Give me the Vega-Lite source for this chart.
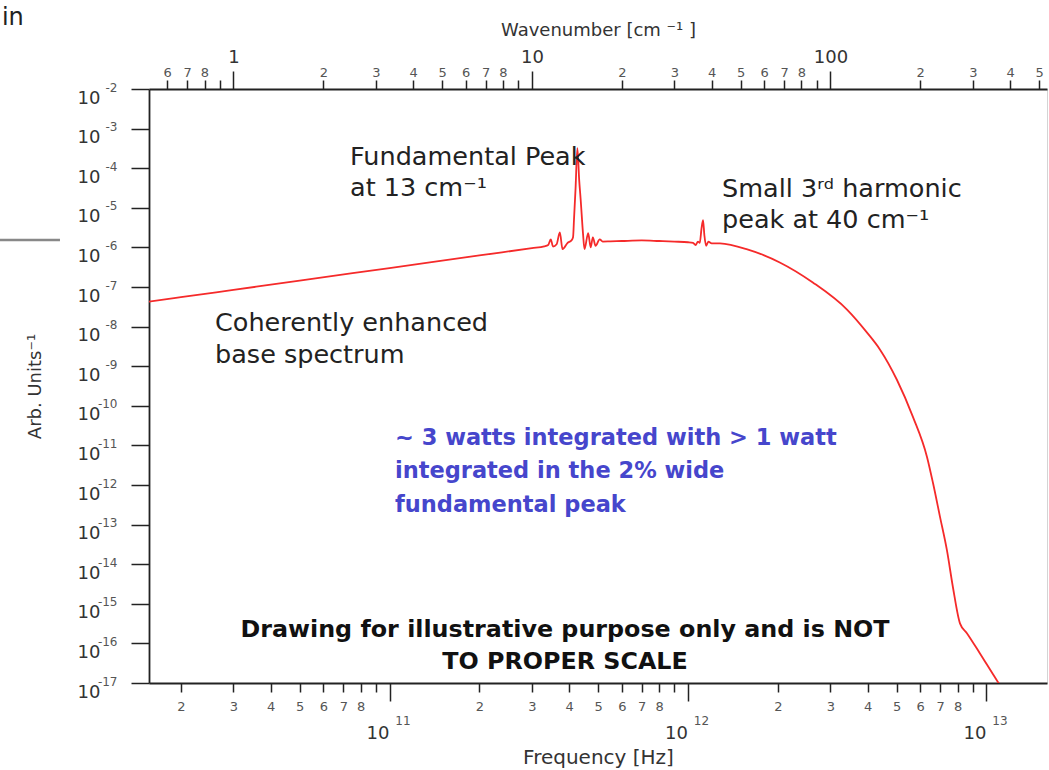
{
  "$schema": "https://vega.github.io/schema/vega-lite/v6.json",
  "width": 898,
  "height": 594,
  "autosize": {"type": "none"},
  "padding": {"left": 149, "top": 89, "right": 2, "bottom": 87},
  "background": "white",
  "config": {
    "view": {"stroke": "#d4d4d4", "strokeWidth": 1},
    "axis": {
      "grid": false,
      "labelFont": "DejaVu Sans",
      "titleFont": "DejaVu Sans",
      "domainColor": "#222222",
      "domainWidth": 1.8,
      "tickColor": "#222222",
      "tickWidth": 1.5,
      "labelFlush": false,
      "labelOverlap": false,
      "labelBound": false,
      "titleFontWeight": "normal",
      "titleColor": "#333333"
    },
    "text": {"font": "DejaVu Sans"}
  },
  "datasets": {
    "curve": [
      {"f": 1.5e10, "v": 4.07e-8},
      {"f": 2e10, "v": 5.52e-8},
      {"f": 3e10, "v": 8.46e-8},
      {"f": 5e10, "v": 1.45e-7},
      {"f": 1e11, "v": 3.01e-7},
      {"f": 2e11, "v": 6.25e-7},
      {"f": 3e11, "v": 9.58e-7},
      {"f": 3.3e11, "v": 1.06e-6},
      {"f": 3.4e11, "v": 1.15e-6},
      {"f": 3.47e11, "v": 1.6e-6},
      {"f": 3.53e11, "v": 1.05e-6},
      {"f": 3.63e11, "v": 1.2e-6},
      {"f": 3.72e11, "v": 2.4e-6},
      {"f": 3.8e11, "v": 9e-7},
      {"f": 3.95e11, "v": 1.3e-6},
      {"f": 4.07e11, "v": 1.5e-6},
      {"f": 4.12e11, "v": 1.8e-6},
      {"f": 4.15e11, "v": 5.0e-6},
      {"f": 4.2e11, "v": 3.0e-5},
      {"f": 4.26e11, "v": 3.2e-4},
      {"f": 4.32e11, "v": 5.0e-5},
      {"f": 4.37e11, "v": 1.6e-5},
      {"f": 4.45e11, "v": 2.2e-6},
      {"f": 4.5e11, "v": 9e-7},
      {"f": 4.63e11, "v": 2.3e-6},
      {"f": 4.72e11, "v": 1.0e-6},
      {"f": 4.8e11, "v": 1.8e-6},
      {"f": 4.9e11, "v": 1.1e-6},
      {"f": 5.06e11, "v": 1.6e-6},
      {"f": 5.18e11, "v": 1.4e-6},
      {"f": 5.5e11, "v": 1.42e-6},
      {"f": 6e11, "v": 1.45e-6},
      {"f": 7e11, "v": 1.5e-6},
      {"f": 8e11, "v": 1.45e-6},
      {"f": 9e11, "v": 1.4e-6},
      {"f": 1.0e12, "v": 1.35e-6},
      {"f": 1.04e12, "v": 1.3e-6},
      {"f": 1.06e12, "v": 1.15e-6},
      {"f": 1.08e12, "v": 1.4e-6},
      {"f": 1.095e12, "v": 1.3e-6},
      {"f": 1.11e12, "v": 3.0e-6},
      {"f": 1.123e12, "v": 4.9e-6},
      {"f": 1.135e12, "v": 2.0e-6},
      {"f": 1.15e12, "v": 1.1e-6},
      {"f": 1.17e12, "v": 1.4e-6},
      {"f": 1.2e12, "v": 1.27e-6},
      {"f": 1.28e12, "v": 1.26e-6},
      {"f": 1.58e12, "v": 8.9e-7},
      {"f": 2.03e12, "v": 4.17e-7},
      {"f": 2.62e12, "v": 1.3e-7},
      {"f": 3.41e12, "v": 2.69e-8},
      {"f": 3.98e12, "v": 7.05e-9},
      {"f": 4.4e12, "v": 2.62e-9},
      {"f": 5.01e12, "v": 4.55e-10},
      {"f": 5.67e12, "v": 5.27e-11},
      {"f": 6.32e12, "v": 5.12e-12},
      {"f": 6.62e12, "v": 1.12e-12},
      {"f": 6.99e12, "v": 1.55e-13},
      {"f": 7.37e12, "v": 2.26e-14},
      {"f": 7.72e12, "v": 2.62e-15},
      {"f": 8.15e12, "v": 3.21e-16},
      {"f": 8.61e12, "v": 1.79e-16},
      {"f": 9.51e12, "v": 5.58e-17},
      {"f": 1.084e13, "v": 1.16e-17},
      {"f": 1.153e13, "v": 5.8e-18}
    ],
    "notes": [
      {"kind": "note", "f": 7.375e10, "v": 1.205e-4, "label": "Fundamental Peak\nat 13 cm⁻¹"},
      {"kind": "note", "f": 1.3e12, "v": 1.88e-5, "label": "Small 3ʳᵈ harmonic\npeak at 40 cm⁻¹"},
      {"kind": "note", "f": 2.603e10, "v": 7.74e-9, "label": "Coherently enhanced\nbase spectrum"},
      {"kind": "blue", "f": 1.043e11, "v": 1.02e-11, "label": "~ 3 watts integrated with > 1 watt\nintegrated in the 2% wide\nfundamental peak"},
      {"kind": "warn", "f": 3.873e11, "v": 1.45e-16, "label": "Drawing for illustrative purpose only and is NOT\nTO PROPER SCALE"},
      {"kind": "frag", "f": 5.03e9, "v": 0.413, "label": "in"}
    ],
    "fragrule": [
      {"f": 4.95e9, "f2": 7.87e9, "v": 1.54e-6}
    ]
  },
  "resolve": {"axis": {"x": "independent", "y": "independent"}},
  "layer": [
    {
      "data": {"name": "curve"},
      "mark": {"type": "line", "color": "#f52a2a", "strokeWidth": 1.8, "clip": true, "interpolate": "monotone"},
      "encoding": {
        "x": {
          "field": "f", "type": "quantitative",
          "scale": {"type": "log", "domain": [1.564e10, 1.595e13], "nice": false},
          "axis": {
            "orient": "bottom", "title": null,
            "values": [2e10, 3e10, 4e10, 5e10, 6e10, 7e10, 8e10, 9e10, 2e11, 3e11, 4e11, 5e11, 6e11, 7e11, 8e11, 9e11, 2e12, 3e12, 4e12, 5e12, 6e12, 7e12, 8e12, 9e12],
            "tickSize": 9, "labelFontSize": 13, "labelColor": "#555555", "labelPadding": 8,
            "labelExpr": "round(datum.value / pow(10, floor(log(datum.value)/LN10 + 1e-6))) == 9 ? '' : '' + round(datum.value / pow(10, floor(log(datum.value)/LN10 + 1e-6)))"
          }
        },
        "y": {
          "field": "v", "type": "quantitative",
          "scale": {"type": "log", "domain": [1e-17, 1e-2], "nice": false},
          "axis": {
            "orient": "left",
            "values": [1e-17, 1e-16, 1e-15, 1e-14, 1e-13, 1e-12, 1e-11, 1e-10, 1e-9, 1e-8, 1e-7, 1e-6, 1e-5, 1e-4, 1e-3, 1e-2],
            "tickSize": 18, "labelExpr": "'10'", "labelFontSize": 18, "labelColor": "#333333",
            "labelPadding": 31, "labelOffset": 9,
            "title": "Arb. Units⁻¹", "titleFontSize": 18, "titlePadding": 33
          }
        }
      }
    },
    {
      "data": {"name": "notes"},
      "transform": [{"filter": "datum.kind == 'note'"}],
      "mark": {"type": "text", "align": "left", "baseline": "alphabetic", "fontSize": 25.5, "lineHeight": 31.5, "lineBreak": "\n", "color": "#222222", "font": "DejaVu Sans"},
      "encoding": {
        "x": {
          "field": "f", "type": "quantitative",
          "scale": {"type": "log", "domain": [1.564e10, 1.595e13], "nice": false},
          "axis": {
            "orient": "bottom", "values": [1e11, 1e12, 1e13],
            "tickSize": 18, "labelExpr": "'10'", "labelFontSize": 18, "labelColor": "#333333",
            "labelPadding": 23, "labelOffset": -12, "domain": false,
            "title": "Frequency [Hz]", "titleFontSize": 20, "titlePadding": 5
          }
        },
        "y": {
          "field": "v", "type": "quantitative",
          "scale": {"type": "log", "domain": [1e-17, 1e-2], "nice": false},
          "axis": {
            "orient": "left",
            "values": [1e-17, 1e-16, 1e-15, 1e-14, 1e-13, 1e-12, 1e-11, 1e-10, 1e-9, 1e-8, 1e-7, 1e-6, 1e-5, 1e-4, 1e-3, 1e-2],
            "ticks": false, "domain": false,
            "labelExpr": "'' + round(log(datum.value)/LN10)", "labelFontSize": 12, "labelColor": "#555555",
            "labelPadding": 32, "labelOffset": -2, "title": null
          }
        },
        "text": {"field": "label", "type": "nominal"}
      }
    },
    {
      "data": {"name": "notes"},
      "transform": [{"filter": "datum.kind == 'blue'"}],
      "mark": {"type": "text", "align": "left", "baseline": "alphabetic", "fontSize": 22.5, "fontWeight": "bold", "lineHeight": 33.3, "lineBreak": "\n", "color": "#4646cc", "font": "DejaVu Sans"},
      "encoding": {
        "x": {
          "field": "f", "type": "quantitative",
          "scale": {"type": "log", "domain": [1.564e10, 1.595e13], "nice": false},
          "axis": {
            "orient": "bottom", "values": [1e11, 1e12, 1e13],
            "ticks": false, "domain": false,
            "labelExpr": "'' + round(log(datum.value)/LN10)", "labelFontSize": 12, "labelColor": "#555555",
            "labelPadding": 32, "labelOffset": 13, "title": null
          }
        },
        "y": {
          "field": "v", "type": "quantitative",
          "scale": {"type": "log", "domain": [1e-17, 1e-2], "nice": false},
          "axis": null
        },
        "text": {"field": "label", "type": "nominal"}
      }
    },
    {
      "data": {"name": "notes"},
      "transform": [{"filter": "datum.kind == 'warn'"}],
      "mark": {"type": "text", "align": "center", "baseline": "alphabetic", "fontSize": 23.8, "fontWeight": "bold", "lineHeight": 32, "lineBreak": "\n", "color": "#111111", "font": "DejaVu Sans"},
      "encoding": {
        "x": {
          "field": "f", "type": "quantitative",
          "scale": {"type": "log", "domain": [1.564e10, 1.595e13], "nice": false},
          "axis": {
            "orient": "top",
            "values": [1.8e10, 2.1e10, 2.4e10, 2.7e10, 6e10, 9e10, 1.2e11, 1.5e11, 1.8e11, 2.1e11, 2.4e11, 2.7e11, 6e11, 9e11, 1.2e12, 1.5e12, 1.8e12, 2.1e12, 2.4e12, 2.7e12, 6e12, 9e12, 1.2e13, 1.5e13],
            "tickSize": 9, "labelFontSize": 13, "labelColor": "#555555", "labelPadding": 1,
            "labelExpr": "round(datum.value/3e10 / pow(10, floor(log(datum.value/3e10)/LN10 + 1e-6))) == 9 ? '' : '' + round(datum.value/3e10 / pow(10, floor(log(datum.value/3e10)/LN10 + 1e-6)))",
            "title": null
          }
        },
        "y": {
          "field": "v", "type": "quantitative",
          "scale": {"type": "log", "domain": [1e-17, 1e-2], "nice": false},
          "axis": null
        },
        "text": {"field": "label", "type": "nominal"}
      }
    },
    {
      "data": {"name": "notes"},
      "transform": [{"filter": "datum.kind == 'frag'"}],
      "mark": {"type": "text", "align": "left", "baseline": "alphabetic", "fontSize": 24, "color": "#222222", "font": "DejaVu Sans"},
      "encoding": {
        "x": {
          "field": "f", "type": "quantitative",
          "scale": {"type": "log", "domain": [1.564e10, 1.595e13], "nice": false},
          "axis": {
            "orient": "top", "values": [3e10, 3e11, 3e12],
            "tickSize": 18, "domain": false,
            "labelExpr": "'' + round(datum.value/3e10)", "labelFontSize": 18, "labelColor": "#333333",
            "labelPadding": 5,
            "title": "Wavenumber [cm  ⁻¹ ]", "titleFontSize": 18, "titlePadding": 9
          }
        },
        "y": {
          "field": "v", "type": "quantitative",
          "scale": {"type": "log", "domain": [1e-17, 1e-2], "nice": false},
          "axis": null
        },
        "text": {"field": "label", "type": "nominal"}
      }
    },
    {
      "data": {"name": "fragrule"},
      "mark": {"type": "rule", "color": "#888888", "strokeWidth": 2.5},
      "encoding": {
        "x": {
          "field": "f", "type": "quantitative",
          "scale": {"type": "log", "domain": [1.564e10, 1.595e13], "nice": false},
          "axis": null
        },
        "x2": {"field": "f2"},
        "y": {
          "field": "v", "type": "quantitative",
          "scale": {"type": "log", "domain": [1e-17, 1e-2], "nice": false},
          "axis": null
        }
      }
    }
  ]
}
